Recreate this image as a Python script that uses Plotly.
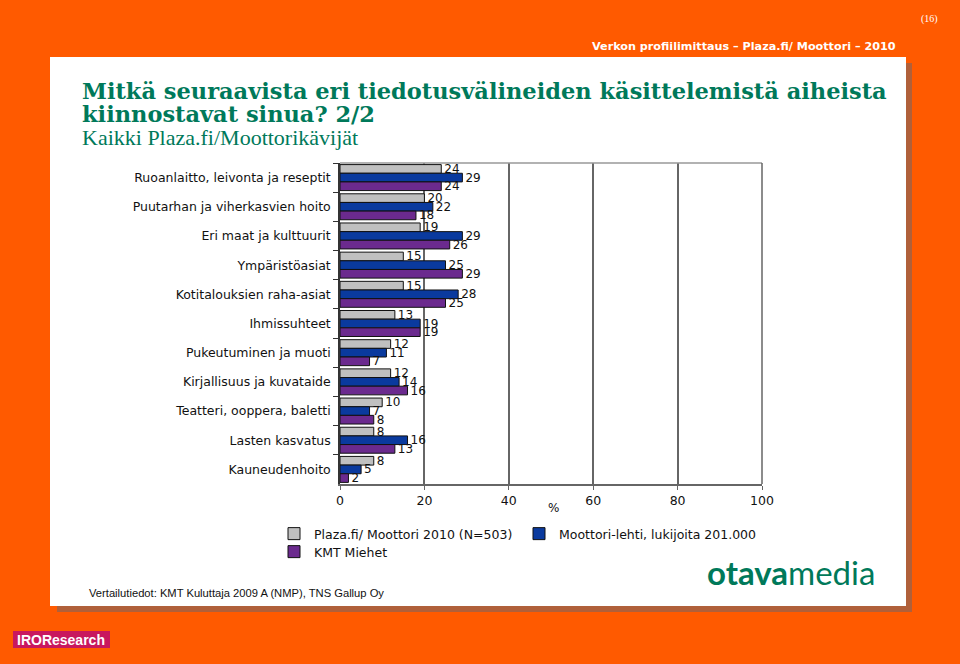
import plotly.graph_objects as go

categories = [
    "Ruoanlaitto, leivonta ja reseptit",
    "Puutarhan ja viherkasvien hoito",
    "Eri maat ja kulttuurit",
    "Ympäristöasiat",
    "Kotitalouksien raha-asiat",
    "Ihmissuhteet",
    "Pukeutuminen ja muoti",
    "Kirjallisuus ja kuvataide",
    "Teatteri, ooppera, baletti",
    "Lasten kasvatus",
    "Kauneudenhoito",
]
plaza = [24, 20, 19, 15, 15, 13, 12, 12, 10, 8, 8]
moottori = [29, 22, 29, 25, 28, 19, 11, 14, 7, 16, 5]
kmt = [24, 18, 26, 29, 25, 19, 7, 16, 8, 13, 2]
series_names = [
    "Plaza.fi/ Moottori 2010 (N=503)",
    "Moottori-lehti, lukijoita 201.000",
    "KMT Miehet",
]
x_ticks = [0, 20, 40, 60, 80, 100]

W, H = 960, 664
L, R, T, B = 340, 762, 163, 484
ORANGE = "#FF5A00"
GREEN = "#00795A"
FONT = "Liberation Sans, Arial, sans-serif"
WFONT = "DejaVu Sans, sans-serif"


def X(px):
    return (px - L) / (R - L)


def Y(py):
    return (B - py) / (B - T)


colors = ["#C0C0C0", "#0A3A9E", "#6B2A8E"]
legend_ids = ["legend", "legend2", "legend3"]
fig = go.Figure()
for vals, name, col, lg in zip([plaza, moottori, kmt], series_names, colors, legend_ids):
    fig.add_trace(go.Bar(
        y=categories, x=vals, name=name, orientation="h",
        marker=dict(color=col, line=dict(color="#111111", width=1)),
        text=[str(v) for v in vals], textposition="outside",
        textfont=dict(family=WFONT, size=12, color="#111111"),
        constraintext="none", cliponaxis=False, legend=lg,
    ))

shapes = [
    dict(type="rect", xref="paper", yref="paper", x0=X(57), x1=X(912), y0=Y(612), y1=Y(63),
         fillcolor="#B0603A", line=dict(width=0), layer="below"),
    dict(type="rect", xref="paper", yref="paper", x0=X(50), x1=X(906), y0=Y(606), y1=Y(57),
         fillcolor="white", line=dict(width=0), layer="below"),
    dict(type="rect", xref="paper", yref="paper", x0=X(13), x1=X(110), y0=Y(648), y1=Y(631),
         fillcolor="#C8185E", line=dict(width=0), layer="below"),
    dict(type="line", xref="paper", yref="paper", x0=0, x1=1, y0=1, y1=1,
         line=dict(color="#999999", width=1.5)),
    dict(type="line", xref="paper", yref="paper", x0=1, x1=1, y0=0, y1=1,
         line=dict(color="#666666", width=1.5)),
]

annotations = [
    dict(text="(16)", x=X(940), y=Y(19), xanchor="right", yanchor="middle",
         font=dict(family="Liberation Serif, serif", size=10, color="white")),
    dict(text="<b>Verkon profiilimittaus – Plaza.fi/ Moottori – 2010</b>", x=X(898), y=Y(46),
         xanchor="right", yanchor="middle",
         font=dict(family=WFONT, size=11.2, color="white")),
    dict(text="<b>Mitkä seuraavista eri tiedotusvälineiden käsittelemistä aiheista</b>",
         x=X(80), y=Y(91), xanchor="left", yanchor="middle",
         font=dict(family="DejaVu Serif, serif", size=22.5, color=GREEN)),
    dict(text="<b>kiinnostavat sinua? 2/2</b>",
         x=X(80), y=Y(114), xanchor="left", yanchor="middle",
         font=dict(family="DejaVu Serif, serif", size=22.5, color=GREEN)),
    dict(text="Kaikki Plaza.fi/Moottorikävijät",
         x=X(80), y=Y(137), xanchor="left", yanchor="middle",
         font=dict(family="Liberation Serif, serif", size=22, color=GREEN)),
    dict(text="%", x=X(553), y=Y(508), xanchor="center", yanchor="middle",
         font=dict(family=WFONT, size=12, color="#111111")),
    dict(text="Vertailutiedot: KMT Kuluttaja 2009 A (NMP), TNS Gallup Oy",
         x=X(87), y=Y(593), xanchor="left", yanchor="middle",
         font=dict(family=FONT, size=11.2, color="#111111")),
    dict(text="<b>otava</b>media", x=X(791), y=Y(572), xanchor="center", yanchor="middle",
         font=dict(family="Lato, sans-serif", size=33, color=GREEN)),
    dict(text="<b>IROResearch</b>", x=X(61), y=Y(639.5), xanchor="center", yanchor="middle",
         font=dict(family=FONT, size=14, color="white")),
]

leg_common = dict(orientation="h", xref="container", yref="container",
                  xanchor="left", yanchor="top", bgcolor="rgba(0,0,0,0)",
                  font=dict(family=WFONT, size=12.5, color="#111111"))

fig.update_layout(
    width=W, height=H,
    margin=dict(l=L, r=W - R, t=T, b=H - B, pad=0),
    paper_bgcolor=ORANGE, plot_bgcolor="white",
    barmode="group", bargap=0.11, bargroupgap=0,
    font=dict(family=WFONT, size=12, color="#111111"),
    xaxis=dict(range=[0, 100], tickvals=x_ticks, ticktext=[str(v) for v in x_ticks],
               showgrid=True, gridcolor="#666666", gridwidth=1.5,
               showline=True, linecolor="#666666", linewidth=1.5,
               ticks="outside", ticklen=4, tickcolor="#666666",
               tickfont=dict(family=WFONT, size=12.5, color="#111111"), zeroline=False,
               fixedrange=True),
    yaxis=dict(autorange="reversed", showline=True, linecolor="#333333", linewidth=1.5,
               ticks="outside", ticklen=5, tickcolor="#333333", tickson="boundaries",
               ticklabelstandoff=5,
               tickfont=dict(family=WFONT, size=12.5, color="#111111"), showgrid=False,
               fixedrange=True),
    legend=dict(x=274 / W, y=1 - 519 / H, **leg_common),
    legend2=dict(x=519 / W, y=1 - 519 / H, **leg_common),
    legend3=dict(x=274 / W, y=1 - 537 / H, **leg_common),
    shapes=shapes, annotations=annotations,
    showlegend=True,
)
for a in fig.layout.annotations:
    a.xref = "paper"
    a.yref = "paper"
    a.showarrow = False

fig.write_html("out.html", config={"displayModeBar": False},
               post_script="document.body.style.margin='0';document.body.style.padding='0';")
